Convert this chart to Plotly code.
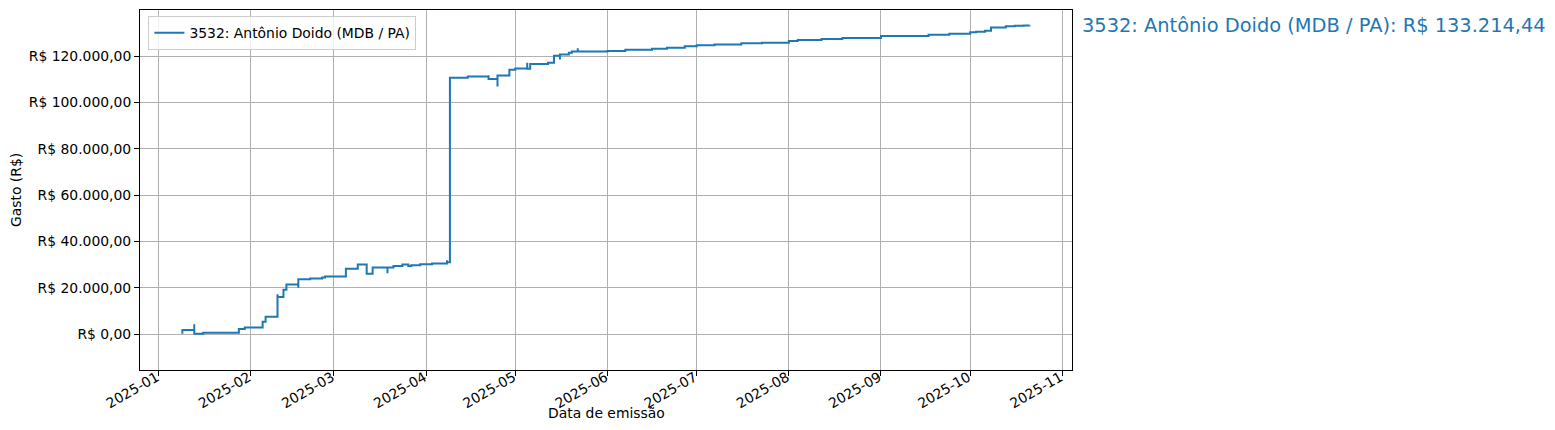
import plotly.graph_objects as go

# Data: cumulative spending (R$) by issue date
dates = [
    "2025-01-09", "2025-01-09", "2025-01-13", "2025-01-13", "2025-01-16",
    "2025-01-28", "2025-01-30", "2025-02-05", "2025-02-06", "2025-02-10",
    "2025-02-10", "2025-02-12", "2025-02-13", "2025-02-17", "2025-02-17",
    "2025-02-21", "2025-02-25", "2025-02-26", "2025-03-05", "2025-03-09",
    "2025-03-12", "2025-03-14", "2025-03-19", "2025-03-19", "2025-03-21",
    "2025-03-24", "2025-03-26", "2025-03-27", "2025-03-30", "2025-04-03",
    "2025-04-08", "2025-04-08", "2025-04-09", "2025-04-15", "2025-04-22",
    "2025-04-22", "2025-04-25", "2025-04-25", "2025-04-29", "2025-05-01",
    "2025-05-05", "2025-05-05", "2025-05-06", "2025-05-12", "2025-05-14",
    "2025-05-16", "2025-05-16", "2025-05-19", "2025-05-20", "2025-05-22",
    "2025-05-22", "2025-06-01", "2025-06-07", "2025-06-16", "2025-06-21",
    "2025-06-27", "2025-07-01", "2025-07-07", "2025-07-16", "2025-07-23",
    "2025-08-01", "2025-08-04", "2025-08-12", "2025-08-19", "2025-09-01",
    "2025-09-17", "2025-09-24", "2025-10-01", "2025-10-03", "2025-10-06",
    "2025-10-08", "2025-10-13", "2025-10-16", "2025-10-19", "2025-10-21",
]
gasto = [
    150, 1750, 4200, 150, 600,
    2200, 2850, 5300, 7500, 17200,
    16000, 19100, 21400, 20000, 23700,
    24000, 24450, 24900, 28200, 30000,
    26000, 28700, 26300, 28700, 29400,
    30000, 29400, 29700, 30150, 30500,
    31900, 31000, 110600, 111100, 111700,
    110100, 106800, 111600, 114100, 114600,
    117100, 114550, 116600, 117100, 120100,
    118500, 120600, 121400, 121900, 123300,
    121900, 122150, 122700, 123150, 123600,
    124200, 124600, 125000, 125450, 125750,
    126450, 126900, 127300, 127750, 128600,
    129200, 129600, 130200, 130500, 130900,
    132350, 132800, 133100, 133150, 133214.44,
]

series_name = "3532: Antônio Doido (MDB / PA)"
total_label = "3532: Antônio Doido (MDB / PA): R$ 133.214,44"
x_title = "Data de emissão"
y_title = "Gasto (R$)"

y_tick_vals = [0, 20000, 40000, 60000, 80000, 100000, 120000]
y_tick_text = ["R$ 0,00", "R$ 20.000,00", "R$ 40.000,00", "R$ 60.000,00",
               "R$ 80.000,00", "R$ 100.000,00", "R$ 120.000,00"]
x_tick_vals = ["2025-01-01", "2025-02-01", "2025-03-01", "2025-04-01",
               "2025-05-01", "2025-06-01", "2025-07-01", "2025-08-01",
               "2025-09-01", "2025-10-01", "2025-11-01"]
x_tick_text = ["2025-01", "2025-02", "2025-03", "2025-04", "2025-05", "2025-06",
               "2025-07", "2025-08", "2025-09", "2025-10", "2025-11"]

COLOR = "#1f77b4"
FONT = "DejaVu Sans"
FS = 13.9

PLOT_L, PLOT_R, PLOT_T, PLOT_B = 140, 1072, 10, 370
PW, PH = PLOT_R - PLOT_L, PLOT_B - PLOT_T

fig = go.Figure()
fig.add_trace(go.Scatter(
    x=dates, y=gasto, mode="lines", name=series_name,
    line=dict(color=COLOR, width=2, shape="hv"),
))

fig.add_annotation(
    x=(1080 - PLOT_L) / PW, xref="paper", y=gasto[-1], yref="y",
    text=total_label, showarrow=False, xanchor="left", yanchor="middle",
    font=dict(family=FONT, size=19.4, color=COLOR),
)
# axis titles
fig.add_annotation(
    x=0.5, xref="paper", y=-(413 - PLOT_B) / PH, yref="paper",
    text=x_title, showarrow=False, xanchor="center", yanchor="middle",
    font=dict(family=FONT, size=FS, color="black"),
)
fig.add_annotation(
    x=(16 - PLOT_L) / PW, xref="paper", y=0.5, yref="paper",
    text=y_title, showarrow=False, xanchor="center", yanchor="middle",
    textangle=-90, font=dict(family=FONT, size=FS, color="black"),
)

axis_common = dict(
    showline=True, linecolor="black", linewidth=1, mirror=True,
    ticks="outside", ticklen=5, tickwidth=1, tickcolor="black",
    showgrid=True, gridcolor="#b0b0b0", gridwidth=1, zeroline=False,
    automargin=False,
    tickfont=dict(family=FONT, size=FS, color="black"),
)

fig.update_layout(
    width=1555, height=430,
    margin=dict(l=PLOT_L, r=1555 - PLOT_R, t=PLOT_T, b=430 - PLOT_B, autoexpand=False),
    paper_bgcolor="white", plot_bgcolor="white",
    font=dict(family=FONT, size=FS, color="black"),
    showlegend=True,
    legend=dict(
        x=0.009, y=0.983, xanchor="left", yanchor="top",
        bgcolor="rgba(255,255,255,0.8)", bordercolor="#cccccc", borderwidth=1,
        font=dict(family=FONT, size=FS, color="black"),
    ),
    xaxis=dict(
        axis_common, type="date",
        range=["2024-12-25 18:00", "2025-11-04 06:00"],
        tickvals=x_tick_vals, ticktext=x_tick_text, tickangle=-30,
        ticklabelstandoff=-12, ticklabelshift=-2,
    ),
    yaxis=dict(
        axis_common, range=[-15500, 139850],
        tickvals=y_tick_vals, ticktext=y_tick_text,
    ),
)

fig.write_html("out.html", config={"displayModeBar": False},
               post_script="document.body.style.margin='0';")
